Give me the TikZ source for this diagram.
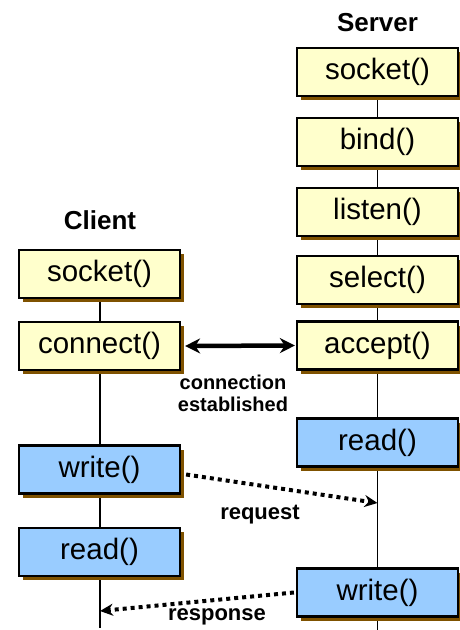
\documentclass[tikz,border=0pt]{standalone}
\usepackage{fontspec}
\setmainfont{Liberation Sans}
\usetikzlibrary{shadows,arrows.meta}
\definecolor{boxyellow}{HTML}{FFFFCC}
\definecolor{boxblue}{HTML}{99CCFF}
\definecolor{shadowbrown}{HTML}{7F5200}
\tikzset{
  callbox/.style={draw=black, line width=2.2pt, minimum width=161pt, minimum height=48pt,
    inner sep=0pt, font=\fontsize{29.5}{29.5}\selectfont,
    drop shadow={shadow xshift=4pt, shadow yshift=-4pt, fill=shadowbrown, opacity=1}},
  ybox/.style={callbox, fill=boxyellow},
  bbox/.style={callbox, fill=boxblue},
  lifeline/.style={draw=black, line width=1.8pt},
  header/.style={font=\fontsize{26}{26}\selectfont\bfseries},
  msglabel/.style={font=\fontsize{20}{22}\selectfont\bfseries, align=center},
  msg/.style={line width=4pt, dash pattern=on 4pt off 4pt, -{Stealth[length=13pt,width=12pt]}},
}
\begin{document}
\begin{tikzpicture}[x=1pt,y=-1pt]
\useasboundingbox (0,0) rectangle (459,630);
% headers
\node[header] (srvlabel) at (377.5,23) {Server};
\node[header] (clilabel) at (100,220) {Client};
% lifeline end points
\coordinate (srvend) at (377.5,630);
\coordinate (cliend) at (100,628);
\coordinate (reqend) at (377.5,503);
\coordinate (respend) at (100,611);
% lifelines (behind)
\draw[lifeline] (377.5,72) -- (srvend);
\draw[lifeline] (100,274) -- (cliend);
% server boxes
\node[ybox] (ssocket) at (377.5,72) {socket()};
\node[ybox] (sbind) at (377.5,142) {bind()};
\node[ybox] (slisten) at (377.5,212) {listen()};
\node[ybox] (sselect) at (377.5,280) {select()};
\node[ybox] (saccept) at (377.5,345.5) {accept()};
\node[bbox] (sread) at (377.5,442.5) {read()};
\node[bbox] (swrite) at (377.5,592.5) {write()};
% client boxes
\node[ybox] (csocket) at (99.5,274) {socket()};
\node[ybox] (cconnect) at (99.5,346) {connect()};
\node[bbox] (cwrite) at (99.5,469.5) {write()};
\node[bbox] (cread) at (99.5,552) {read()};
% connection
\draw[line width=4.5pt, {Stealth[length=15pt,width=15pt]}-{Stealth[length=15pt,width=15pt]}]
  ([xshift=4pt]cconnect.east) -- ([xshift=-1pt]saccept.west);
\node[msglabel] (connlabel) at (233,393) {connection\\established};
% request / response
\draw[msg] ([xshift=5pt,yshift=-5pt]cwrite.east) -- (reqend);
\node[msglabel, font=\fontsize{22}{22}\selectfont\bfseries] (reqlabel) at (260,515) {request};
\draw[msg] ([xshift=-2pt]swrite.west) -- (respend);
\node[msglabel, font=\fontsize{22}{22}\selectfont\bfseries] (resplabel) at (217,617) {response};
\end{tikzpicture}
\end{document}
